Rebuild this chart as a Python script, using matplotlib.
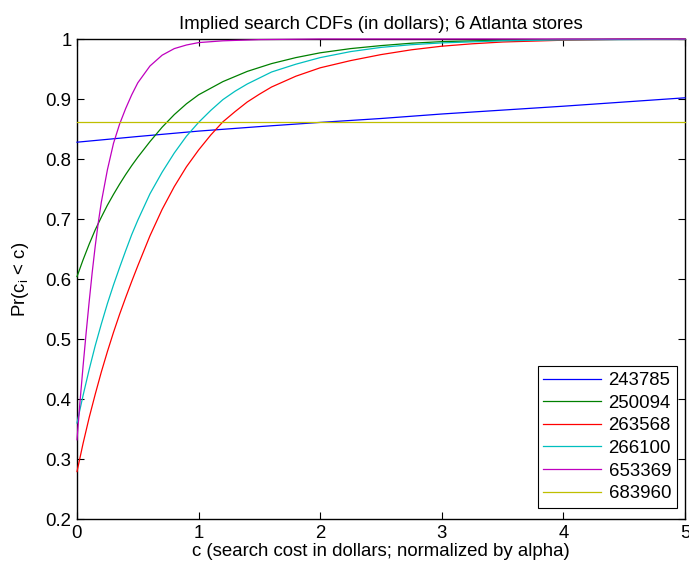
import matplotlib
matplotlib.use('Agg')
import matplotlib.pyplot as plt
from matplotlib.ticker import FormatStrFormatter

plt.rcParams['font.family'] = ['Liberation Sans', 'DejaVu Sans']
plt.rcParams['mathtext.default'] = 'regular'

# store ids in plotting order
stores = ['243785', '250094', '263568', '266100', '653369', '683960']
colors = [(0, 0, 1), (0, 0.5, 0), (1, 0, 0), (0, 0.75, 0.75), (0.75, 0, 0.75), (0.75, 0.75, 0)]

# search cost grid and CDF values for each store
c_243785 = [0, 0.5, 1, 1.5, 2, 2.5, 3, 3.5, 4, 4.5, 5]
p_243785 = [0.828, 0.8375, 0.8465, 0.854, 0.861, 0.8675, 0.875, 0.8815, 0.888, 0.895, 0.902]

c_250094 = [0, 0.05, 0.1, 0.15, 0.2, 0.25, 0.3, 0.35, 0.4, 0.45, 0.5, 0.6, 0.7, 0.8, 0.9, 1.0,
            1.2, 1.4, 1.6, 1.8, 2.0, 2.25, 2.5, 2.75, 3.0, 3.5, 4.0, 5.0]
p_250094 = [0.604, 0.632, 0.658, 0.682, 0.703, 0.723, 0.741, 0.758, 0.774, 0.789, 0.803, 0.829,
            0.853, 0.874, 0.892, 0.907, 0.929, 0.946, 0.959, 0.969, 0.977, 0.984, 0.989, 0.993,
            0.9956, 0.998, 0.9993, 1.0]

c_263568 = [0, 0.05, 0.1, 0.15, 0.2, 0.25, 0.3, 0.35, 0.4, 0.45, 0.5, 0.6, 0.7, 0.8, 0.9, 1.0,
            1.1, 1.2, 1.3, 1.4, 1.5, 1.6, 1.8, 2.0, 2.25, 2.5, 2.75, 3.0, 3.25, 3.5, 4.0, 4.5, 5.0]
p_263568 = [0.279, 0.326, 0.369, 0.408, 0.445, 0.479, 0.511, 0.541, 0.569, 0.596, 0.622, 0.672,
            0.716, 0.754, 0.787, 0.815, 0.84, 0.862, 0.879, 0.895, 0.908, 0.92, 0.938, 0.952,
            0.964, 0.974, 0.982, 0.988, 0.992, 0.995, 0.998, 0.9995, 1.0]

c_266100 = [0, 0.05, 0.1, 0.15, 0.2, 0.25, 0.3, 0.35, 0.4, 0.45, 0.5, 0.6, 0.7, 0.8, 0.9, 1.0,
            1.1, 1.2, 1.3, 1.4, 1.6, 1.8, 2.0, 2.25, 2.5, 2.75, 3.0, 3.5, 4.0, 5.0]
p_266100 = [0.36, 0.406, 0.449, 0.489, 0.525, 0.559, 0.59, 0.619, 0.647, 0.674, 0.698, 0.742,
            0.778, 0.81, 0.838, 0.861, 0.881, 0.899, 0.913, 0.925, 0.945, 0.958, 0.969, 0.979,
            0.986, 0.9905, 0.9935, 0.997, 0.9986, 0.9997]

c_653369 = [0, 0.025, 0.05, 0.075, 0.1, 0.125, 0.15, 0.175, 0.2, 0.25, 0.3, 0.35, 0.4, 0.45,
            0.5, 0.6, 0.7, 0.8, 0.9, 1.0, 1.2, 1.5, 2.0, 5.0]
p_653369 = [0.332, 0.396, 0.455, 0.51, 0.562, 0.611, 0.655, 0.694, 0.728, 0.782, 0.826, 0.858,
            0.884, 0.907, 0.927, 0.955, 0.973, 0.984, 0.99, 0.994, 0.997, 0.999, 1.0, 1.0]

c_683960 = [0, 5]
p_683960 = [0.861, 0.861]

series = [(c_243785, p_243785), (c_250094, p_250094), (c_263568, p_263568),
          (c_266100, p_266100), (c_653369, p_653369), (c_683960, p_683960)]

fs = 13.4

fig = plt.figure(figsize=(6.89, 5.66), dpi=100)
ax = fig.add_axes([77 / 689, 1 - 519 / 566, 608 / 689, 480 / 566])

for (cc, pp), name, col in zip(series, stores, colors):
    ax.plot(cc, pp, color=col, lw=0.9, label=name, clip_on=False, zorder=3,
            solid_joinstyle='round')

ax.set_xlim(0, 5)
ax.set_ylim(0.2, 1)
ax.set_xticks([0, 1, 2, 3, 4, 5])
ax.set_yticks([0.2, 0.3, 0.4, 0.5, 0.6, 0.7, 0.8, 0.9, 1.0])
ax.yaxis.set_major_formatter(FormatStrFormatter('%g'))
ax.tick_params(direction='in', top=True, right=True, length=5, width=0.8, labelsize=fs, pad=4)
for s in ax.spines.values():
    s.set_linewidth(1.0)

ax.set_title('Implied search CDFs (in dollars); 6 Atlanta stores', fontsize=fs, pad=7)
ax.set_xlabel('c (search cost in dollars; normalized by alpha)', fontsize=fs, labelpad=1)
ax.set_ylabel('Pr(c$_i$ < c)', fontsize=fs, labelpad=10)

leg = ax.legend(loc='lower right', bbox_to_anchor=(0.9863, 0.0235), borderaxespad=0,
                fancybox=False, framealpha=1, edgecolor='black', fontsize=fs,
                handlelength=3.1, handletextpad=0.4, labelspacing=0.3, borderpad=0.3)
leg.get_frame().set_linewidth(0.8)

fig.savefig('out.png', dpi=100)
